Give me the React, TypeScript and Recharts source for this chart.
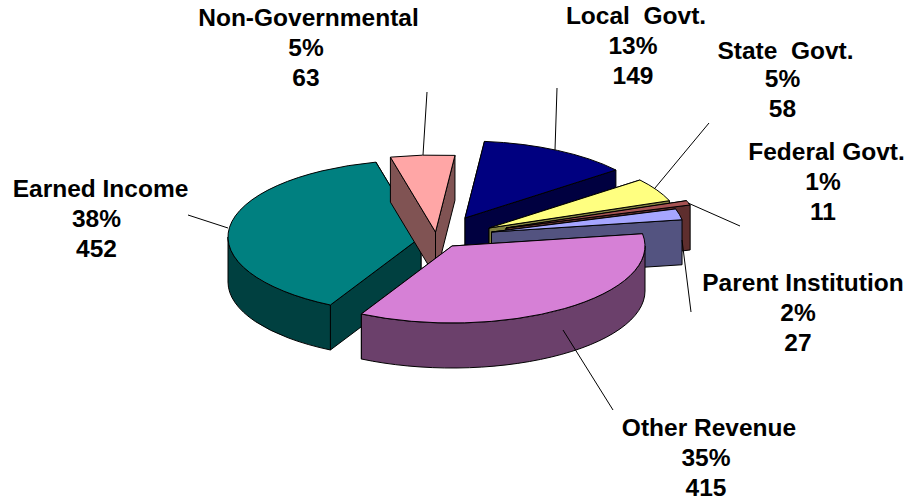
import React from "react";
import { PieChart, Pie } from "recharts";

const categories = ["Earned Income", "Non-Governmental", "Local  Govt.", "State  Govt.", "Federal Govt.", "Parent Institution", "Other Revenue"];
const values = [452, 63, 149, 58, 11, 27, 415];
const percents = ["38%", "5%", "13%", "5%", "1%", "2%", "35%"];

const topColors = ["#008080", "#FFA6A6", "#000080", "#FFFF80", "#A65353", "#A6A6FF", "#D680D6"];
const wallColors = ["#004040", "#805353", "#000040", "#808040", "#5E2E2E", "#535380", "#6B406B"];
// explosion offset of each slice from the pie's centre
const offsetsX = [-49, -34.5, -5, 19, 36, 21.5, -18];
const offsetsY = [7, 2, -12, -2, -2, 2, 16];
// label centre x (title, then the two number lines), baselines of the title and first number line
const titleX = [100.5, 308.5, 636, 785.5, 826.5, 803, 709];
const numberX = [96.5, 306, 633, 782.5, 823, 798, 706];
const titleY = [197, 26, 24, 59, 159.5, 291, 436];
const numberY = [227, 56, 54, 87, 189.5, 321, 466];
const labelGap = 30;
// leader line ends, only styling of the annotation
const leaderA = [[188, 215], [427, 92], [557, 88], [709, 123], [740, 226], [691, 312], [613, 410]];
const leaderB = [[228, 228], [423, 155], [555, 150], [655, 188], [688, 203], [682, 240], [563, 330]];

const CX = 470, CY = 230, RX = 193, RY = 77, DEPTH = 45;
const RAD = Math.PI / 180;

const chartData = categories.map((name, i) => ({ name, value: values[i], i }));

function Slice(props: any) {
  const i = props.payload?.i ?? props.index ?? 0;
  const cx = props.cx + offsetsX[i];
  const cy = props.cy + offsetsY[i];
  const rx = props.outerRadius;
  const ry = (rx * RY) / RX;
  const t0 = -props.startAngle;
  const t1 = -props.endAngle;
  const pt = (t: number, d = 0): [number, number] => [cx + rx * Math.cos(t * RAD), cy + ry * Math.sin(t * RAD) + d];
  const f = (p: [number, number]) => `${p[0].toFixed(2)} ${p[1].toFixed(2)}`;
  const arc = (a: number, b: number, d = 0) => {
    const sweep = b > a ? 1 : 0;
    const large = Math.abs(b - a) > 180 ? 1 : 0;
    return `A ${rx} ${ry} 0 ${large} ${sweep} ${f(pt(b, d))}`;
  };
  const radial = (t: number) =>
    `M ${f([cx, cy])} L ${f(pt(t))} L ${f(pt(t, DEPTH))} L ${f([cx, cy + DEPTH])} Z`;

  // the part of the rim that faces the viewer
  let outer: string | null = null;
  const ranges: [number, number][] = [[0, 180], [360, 540]];
  for (const [lo, hi] of ranges) {
    const a = Math.max(t0, lo);
    const b = Math.min(t1, hi);
    if (b > a) {
      outer = `M ${f(pt(a))} ${arc(a, b)} L ${f(pt(b, DEPTH))} ${arc(b, a, DEPTH)} Z`;
    }
  }
  const top = `M ${f([cx, cy])} L ${f(pt(t0))} ${arc(t0, t1)} Z`;
  const line = { stroke: "#000", strokeWidth: 1, strokeLinejoin: "round" as const };
  // back wall first, the wall nearer the viewer over it
  const walls = pt(t0)[1] < pt(t1)[1] ? [t0, t1] : [t1, t0];
  return (
    <g>
      <path d={radial(walls[0])} fill={wallColors[i]} {...line} />
      <path d={radial(walls[1])} fill={wallColors[i]} {...line} />
      {outer && <path d={outer} fill={wallColors[i]} {...line} />}
      <path d={top} fill={topColors[i]} {...line} />
    </g>
  );
}

function SliceLabel(props: any) {
  const i = props.payload?.i ?? props.index ?? 0;
  const common = {
    textAnchor: "middle" as const,
    fontFamily: "'Liberation Sans', Arial, sans-serif",
    fontWeight: 700,
    fontSize: 24.5,
    fill: "#000",
    style: { whiteSpace: "pre" as const },
  };
  return (
    <g>
      <line x1={leaderA[i][0]} y1={leaderA[i][1]} x2={leaderB[i][0]} y2={leaderB[i][1]} stroke="#000" strokeWidth={1} />
      <text x={titleX[i]} y={titleY[i]} {...common}>{categories[i]}</text>
      <text x={numberX[i]} y={numberY[i]} {...common}>{percents[i]}</text>
      <text x={numberX[i]} y={numberY[i] + labelGap} {...common}>{values[i]}</text>
    </g>
  );
}

export default function App() {
  return (
    <div style={{ position: "absolute", left: 0, top: 0, width: 907, height: 504, background: "#fff" }}>
      <PieChart width={907} height={504} margin={{ top: 0, right: 0, bottom: 0, left: 0 }}>
        <Pie
          data={chartData}
          dataKey="value"
          nameKey="name"
          cx={CX}
          cy={CY}
          innerRadius={0}
          outerRadius={RX}
          startAngle={-118}
          endAngle={-478}
          paddingAngle={0}
          stroke="none"
          isAnimationActive={false}
          shape={Slice}
          label={SliceLabel}
          labelLine={false}
        />
      </PieChart>
    </div>
  );
}
